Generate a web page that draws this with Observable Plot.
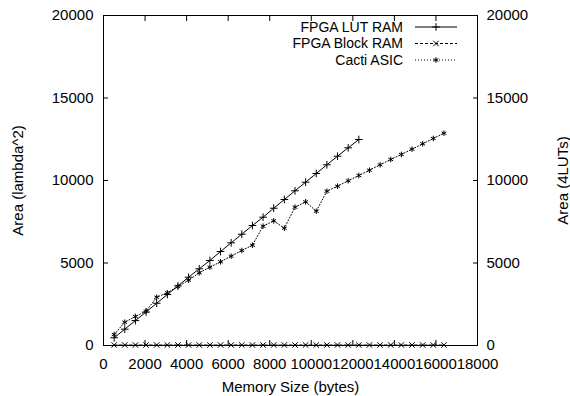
<!DOCTYPE html>
<html><head><meta charset="utf-8">
<script src="https://cdn.jsdelivr.net/npm/d3@7"></script>
<script src="https://cdn.jsdelivr.net/npm/@observablehq/plot@0.6"></script>
<style>body{margin:0;background:#fff}#chart{width:570px;height:396px}</style>
</head><body><div id="chart"></div>
<script>
const seriesNames = ["FPGA LUT RAM", "FPGA Block RAM", "Cacti ASIC"];
const lutSizes = [512,1024,1536,2048,2560,3072,3584,4096,4608,5120,5632,6144,6656,7168,7680,8192,8704,9216,9728,10240,10752,11264,11776,12288];
const lutRam = [467,990,1510,2030,2560,3090,3610,4139,4648,5152,5697,6224,6745,7273,7776,8321,8848,9376,9897,10424,10952,11473,11982,12485];
const blockSizes = [512,1024,1536,2048,2560,3072,3584,4096,4608,5120,5632,6144,6656,7168,7680,8192,8704,9216,9728,10240,10752,11264,11776,12288,12800,13312,13824,14336,14848,15360,15872,16384];
const blockRam = [30,30,30,30,30,30,30,30,30,30,30,30,30,30,30,30,30,30,30,30,30,30,30,30,30,30,30,30,30,30,30,30];
const cactiSizes = [512,1024,1536,2048,2560,3072,3584,4096,4608,5120,5632,6144,6656,7168,7680,8192,8704,9216,9728,10240,10752,11264,11776,12288,12800,13312,13824,14336,14848,15360,15872,16384];
const cactiAsic = [667,1412,1758,2079,2927,3194,3576,3960,4406,4745,5073,5412,5758,6079,7230,7558,7109,8382,8709,8139,9352,9655,9982,10303,10624,10952,11273,11576,11897,12224,12545,12867];
const xTicks = [0,2000,4000,6000,8000,10000,12000,14000,16000,18000];
const yTicks = [0,5000,10000,15000,20000];
const xLabel = "Memory Size (bytes)";
const yLabelLeft = "Area (lambda^2)";
const yLabelRight = "Area (4LUTs)";

const lutData = lutSizes.map((x, i) => ({x, y: lutRam[i]}));
const blockData = blockSizes.map((x, i) => ({x, y: blockRam[i]}));
const cactiData = cactiSizes.map((x, i) => ({x, y: cactiAsic[i]}));

const styles = [
  {dash: null, symbol: "plus"},
  {dash: "3,2", symbol: "times"},
  {dash: "1,2", symbol: "asterisk"}
];
const FONT = "'Liberation Sans', Arial, Helvetica, sans-serif";
const R = 2.6;

const plot = Plot.plot({
  width: 570, height: 396,
  marginLeft: 103, marginRight: 93, marginTop: 15, marginBottom: 51,
  style: {fontFamily: FONT, fontSize: "15px", color: "#000", background: "#fff"},
  x: {domain: [0, 18000]},
  y: {domain: [0, 20000]},
  marks: [
    Plot.axisX(xTicks, {anchor: "bottom", tickSize: -5, tickPadding: 18, tickFormat: "d", label: xLabel, labelAnchor: "center", labelOffset: 46, labelArrow: "none"}),
    Plot.axisX(xTicks, {anchor: "top", tickSize: -5, tickFormat: () => "", label: null}),
    Plot.axisY(yTicks, {anchor: "left", tickSize: -5, tickPadding: 15, tickFormat: "d", label: yLabelLeft, labelAnchor: "center", labelOffset: 91, labelArrow: "none"}),
    Plot.axisY(yTicks, {anchor: "right", tickSize: -5, tickPadding: 14, tickFormat: "d", label: yLabelRight, labelAnchor: "center", labelOffset: 90, labelArrow: "none"}),
    Plot.line(lutData, {x: "x", y: "y", stroke: "#000", strokeWidth: 1}),
    Plot.dot(lutData, {x: "x", y: "y", symbol: styles[0].symbol, r: R, stroke: "#000", strokeWidth: 1}),
    Plot.line(blockData, {x: "x", y: "y", stroke: "#000", strokeWidth: 1, strokeDasharray: styles[1].dash}),
    Plot.dot(blockData, {x: "x", y: "y", symbol: styles[1].symbol, r: R, stroke: "#000", strokeWidth: 1}),
    Plot.line(cactiData, {x: "x", y: "y", stroke: "#000", strokeWidth: 1, strokeDasharray: styles[2].dash}),
    Plot.dot(cactiData, {x: "x", y: "y", symbol: styles[2].symbol, r: R, stroke: "#000", strokeWidth: 1}),
    Plot.frame({stroke: "#000", strokeWidth: 1})
  ]
});
document.getElementById("chart").appendChild(plot);

// legend inside the top-right of the frame
const svg = d3.select(plot);
const textEnd = 403, lineStart = 415, lineEnd = 457, rowY0 = 27, rowStep = 16.5;
const symbolPaths = {plus: d3.symbolPlus, times: d3.symbolTimes, asterisk: d3.symbolAsterisk};
const lg = svg.append("g").attr("font-family", FONT).attr("font-size", 14);
seriesNames.forEach((name, i) => {
  const y = rowY0 + i * rowStep;
  lg.append("text").attr("x", textEnd).attr("y", y).attr("dy", "0.35em").attr("text-anchor", "end").attr("fill", "#000").text(name);
  lg.append("line").attr("x1", lineStart).attr("x2", lineEnd).attr("y1", y).attr("y2", y)
    .attr("stroke", "#000").attr("stroke-width", 1).attr("stroke-dasharray", styles[i].dash);
  lg.append("path").attr("transform", `translate(${(lineStart + lineEnd) / 2},${y})`)
    .attr("d", d3.symbol(symbolPaths[styles[i].symbol], Math.PI * R * R)()).attr("fill", "none").attr("stroke", "#000");
});
</script></body></html>
